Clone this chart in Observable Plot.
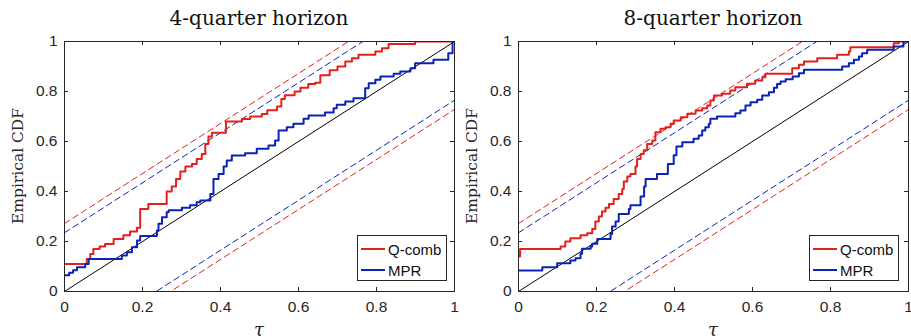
<!DOCTYPE html>
<html>
<head>
<meta charset="utf-8">
<script src="https://cdn.jsdelivr.net/npm/d3@7"></script>
<script src="https://cdn.jsdelivr.net/npm/@observablehq/plot@0.6"></script>
<style>
  body { margin: 0; background: #fff; }
  #wrap { position: relative; width: 911px; height: 336px; overflow: hidden; background: #fff; }
  .panel { position: absolute; top: 0; }
  .title { position: absolute; top: 6px; font-family: "DejaVu Serif", serif; font-size: 20px; color: #111; white-space: nowrap; transform: translateX(-50%); }
  .ylab { position: absolute; font-family: "DejaVu Serif", serif; font-size: 15.5px; color: #262626; white-space: nowrap; transform: translate(-50%, -50%) rotate(-90deg); }
  .xlab { position: absolute; font-family: "DejaVu Serif", serif; font-style: italic; font-size: 18px; color: #262626; transform: translate(-50%, -50%); }
  .legend { position: absolute; background: #fff; border: 1px solid #262626; box-sizing: border-box; font-family: "Liberation Sans", sans-serif; font-size: 15px; color: #111; }
  .legend .row { position: absolute; left: 0; height: 20px; display: flex; align-items: center; }
  .legend .sw { width: 24px; height: 2px; margin-left: 3px; margin-right: 3px; }
</style>
</head>
<body>
<div id="wrap"></div>
<script>
// ---------------- data ----------------
const tau = [0, 1];
const xTicks = [0, 0.2, 0.4, 0.6, 0.8, 1];
const yTicks = [0, 0.2, 0.4, 0.6, 0.8, 1];
const titles = ["4-quarter horizon", "8-quarter horizon"];
const seriesNames = ["Q-comb", "MPR"];
const bandHalfWidth = [0.272, 0.235]; // Q-comb, MPR
const yLabel = "Empirical CDF";
const xLabel = "τ";

// 4-quarter horizon, Q-comb: [tau, ECDF]
const h4QComb = [
  [0,0.11],[0.057,0.13],[0.066,0.15],[0.074,0.17],[0.09,0.18],[0.104,0.19],[0.126,0.21],
  [0.151,0.225],[0.168,0.24],[0.186,0.255],[0.194,0.33],[0.215,0.35],[0.262,0.40],[0.275,0.42],
  [0.286,0.45],[0.297,0.48],[0.31,0.50],[0.327,0.51],[0.339,0.53],[0.352,0.55],[0.361,0.59],
  [0.369,0.62],[0.378,0.635],[0.414,0.68],[0.455,0.69],[0.476,0.70],[0.506,0.71],[0.52,0.725],
  [0.545,0.74],[0.556,0.77],[0.565,0.785],[0.59,0.80],[0.605,0.815],[0.625,0.83],[0.643,0.835],
  [0.656,0.865],[0.68,0.885],[0.70,0.90],[0.72,0.92],[0.737,0.933],[0.754,0.947],[0.797,0.96],
  [0.814,0.973],[0.831,0.99],[0.899,1.0],[1,1]
];
// 4-quarter horizon, MPR
const h4MPR = [
  [0,0.065],[0.012,0.075],[0.022,0.085],[0.032,0.097],[0.053,0.11],[0.062,0.13],[0.147,0.144],
  [0.16,0.157],[0.173,0.177],[0.186,0.204],[0.194,0.222],[0.237,0.244],[0.241,0.271],[0.25,0.297],
  [0.262,0.317],[0.267,0.325],[0.301,0.335],[0.322,0.345],[0.339,0.357],[0.348,0.364],[0.374,0.39],
  [0.382,0.45],[0.395,0.47],[0.408,0.50],[0.416,0.524],[0.429,0.544],[0.463,0.553],[0.493,0.571],
  [0.523,0.584],[0.54,0.604],[0.549,0.644],[0.57,0.657],[0.587,0.671],[0.613,0.691],[0.626,0.704],
  [0.668,0.716],[0.69,0.733],[0.698,0.747],[0.72,0.76],[0.741,0.773],[0.771,0.813],[0.78,0.833],
  [0.797,0.847],[0.81,0.86],[0.844,0.871],[0.861,0.88],[0.887,0.893],[0.899,0.913],[0.946,0.927],
  [0.984,0.953],[0.995,1.0],[1,1]
];
// 8-quarter horizon, Q-comb
const h8QComb = [
  [0,0.14],[0.004,0.17],[0.108,0.18],[0.12,0.20],[0.133,0.213],[0.159,0.225],[0.176,0.233],
  [0.189,0.25],[0.197,0.28],[0.206,0.30],[0.214,0.32],[0.223,0.335],[0.232,0.35],[0.244,0.37],
  [0.257,0.39],[0.266,0.41],[0.27,0.44],[0.279,0.46],[0.287,0.47],[0.30,0.50],[0.304,0.53],
  [0.313,0.55],[0.321,0.565],[0.33,0.59],[0.343,0.604],[0.351,0.637],[0.364,0.651],[0.377,0.657],
  [0.39,0.671],[0.398,0.684],[0.416,0.697],[0.433,0.711],[0.454,0.724],[0.471,0.733],[0.484,0.744],
  [0.492,0.764],[0.501,0.784],[0.522,0.791],[0.543,0.804],[0.556,0.817],[0.586,0.831],[0.607,0.844],
  [0.625,0.857],[0.633,0.871],[0.702,0.893],[0.719,0.907],[0.732,0.92],[0.766,0.933],[0.817,0.947],
  [0.847,0.96],[0.851,0.977],[0.962,0.993],[0.975,1.0],[1,1]
];
// 8-quarter horizon, MPR
const h8MPR = [
  [0,0.084],[0.061,0.097],[0.099,0.113],[0.133,0.124],[0.146,0.133],[0.159,0.151],[0.163,0.171],
  [0.185,0.18],[0.189,0.191],[0.202,0.21],[0.236,0.23],[0.24,0.26],[0.249,0.28],[0.257,0.31],
  [0.283,0.33],[0.287,0.345],[0.313,0.38],[0.322,0.42],[0.326,0.45],[0.355,0.47],[0.383,0.51],
  [0.398,0.545],[0.405,0.58],[0.42,0.597],[0.449,0.611],[0.462,0.624],[0.471,0.644],[0.479,0.657],
  [0.488,0.671],[0.492,0.691],[0.509,0.70],[0.556,0.713],[0.569,0.724],[0.582,0.744],[0.595,0.757],
  [0.612,0.767],[0.625,0.784],[0.642,0.797],[0.655,0.815],[0.663,0.83],[0.672,0.84],[0.685,0.849],
  [0.703,0.86],[0.719,0.873],[0.732,0.887],[0.83,0.90],[0.847,0.913],[0.86,0.927],[0.873,0.94],
  [0.881,0.953],[0.894,0.967],[0.962,0.98],[0.987,1.0],[1,1]
];

// ---------------- styles ----------------
const COLORS = ["#e3211c", "#0a22b8"];
const AXIS = "#262626";

function makePanel(qc, mpr, m) {
  const series = [qc, mpr];
  const marks = [];
  // dashed confidence bands (upper & lower), clipped to frame
  series.forEach((_, k) => {
    [1, -1].forEach(s => {
      marks.push(Plot.line(tau.map(t => ({x: t, y: t + s * bandHalfWidth[k]})), {
        x: "x", y: "y", stroke: COLORS[k], strokeWidth: 1, strokeDasharray: "6,4", clip: true
      }));
    });
  });
  // 45-degree line
  marks.push(Plot.line(tau.map(t => ({x: t, y: t})), {x: "x", y: "y", stroke: "#000", strokeWidth: 1}));
  // ECDF step lines
  series.forEach((d, k) => {
    marks.push(Plot.line(d, {x: d => d[0], y: d => d[1], curve: "step-after", stroke: COLORS[k], strokeWidth: 2, clip: true}));
  });
  // inward ticks on all four sides
  marks.push(Plot.tickX(xTicks, {x: d => d, stroke: AXIS, insetTop: 246}));
  marks.push(Plot.tickX(xTicks, {x: d => d, stroke: AXIS, insetBottom: 246}));
  marks.push(Plot.tickY(yTicks, {y: d => d, stroke: AXIS, insetLeft: 386}));
  marks.push(Plot.tickY(yTicks, {y: d => d, stroke: AXIS, insetRight: 386}));
  marks.push(Plot.axisX(xTicks, {tickSize: 0, tickPadding: 9, tickFormat: d => String(d), label: null}));
  marks.push(Plot.axisY(yTicks, {tickSize: 0, tickPadding: 7, tickFormat: d => String(d), label: null}));
  marks.push(Plot.frame({stroke: AXIS, strokeWidth: 1}));
  return Plot.plot({
    width: m.width, height: 336,
    marginTop: 41, marginBottom: 45, marginLeft: m.left, marginRight: m.right,
    x: {domain: [0, 1]}, y: {domain: [0, 1]},
    style: {fontFamily: "Liberation Sans, sans-serif", fontSize: "15.5px", color: AXIS, background: "transparent", overflow: "visible"},
    marks
  });
}

const wrap = document.getElementById("wrap");
const panels = [
  {data: [h4QComb, h4MPR], off: 0, width: 456, left: 64, right: 2, legendLeft: 357},
  {data: [h8QComb, h8MPR], off: 456, width: 455, left: 62, right: 3, legendLeft: 353}
];
panels.forEach((p, i) => {
  const div = document.createElement("div");
  div.className = "panel";
  div.style.left = p.off + "px";
  div.style.width = p.width + "px";
  div.style.height = "336px";
  div.appendChild(makePanel(p.data[0], p.data[1], p));
  // title
  const plotCenter = p.left + (p.width - p.left - p.right) / 2;
  const t = document.createElement("div");
  t.className = "title"; t.textContent = titles[i];
  t.style.left = plotCenter + "px";
  div.appendChild(t);
  // y label
  const yl = document.createElement("div");
  yl.className = "ylab"; yl.textContent = yLabel;
  yl.style.left = (p.left - 46) + "px"; yl.style.top = "166px";
  div.appendChild(yl);
  // x label
  const xl = document.createElement("div");
  xl.className = "xlab"; xl.textContent = xLabel;
  xl.style.left = plotCenter + "px"; xl.style.top = "329px";
  div.appendChild(xl);
  // legend
  const lg = document.createElement("div");
  lg.className = "legend";
  lg.style.left = p.legendLeft + "px"; lg.style.top = "235px";
  lg.style.width = "90px"; lg.style.height = "46px";
  seriesNames.forEach((name, k) => {
    const row = document.createElement("div");
    row.className = "row";
    row.style.top = (k === 0 ? 3 : 24) + "px";
    const sw = document.createElement("span");
    sw.className = "sw"; sw.style.background = COLORS[k];
    const tx = document.createElement("span");
    tx.textContent = name;
    row.appendChild(sw); row.appendChild(tx);
    lg.appendChild(row);
  });
  div.appendChild(lg);
  wrap.appendChild(div);
});
</script>
</body>
</html>
